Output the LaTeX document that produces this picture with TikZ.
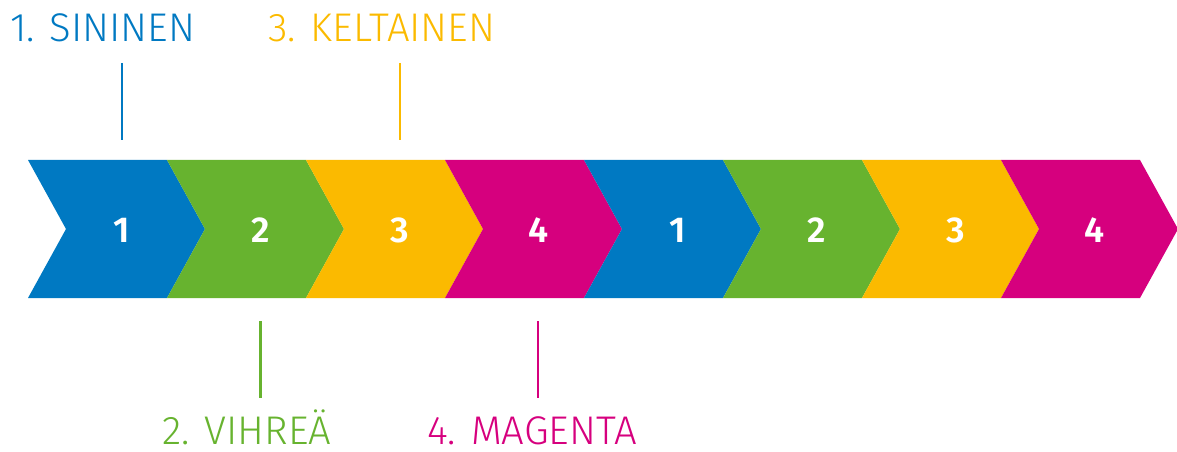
\documentclass[tikz,border=0pt]{standalone}
\usepackage{fontspec}
\setmainfont{Fira Sans}
\newfontfamily\lightfont{Fira Sans Light}
\newfontfamily\boldfont{Fira Sans}[UprightFont=* SemiBold]
\definecolor{cblue}{HTML}{0079C2}
\definecolor{cgreen}{HTML}{67B32F}
\definecolor{cyellow}{HTML}{FBBA00}
\definecolor{cmagenta}{HTML}{D6007E}
\tikzset{
  num/.style={text=white, font=\boldfont\fontsize{27}{27}\selectfont, inner sep=0pt},
  lab/.style={font=\lightfont\fontsize{30}{30}\selectfont, inner sep=0pt, anchor=base west},
  tick/.style={line width=1.6pt}
}
\begin{document}
\begin{tikzpicture}[x=0.75pt,y=-0.75pt]
\useasboundingbox (0,0) rectangle (1177,452);
\foreach \i/\c in {0/cblue,1/cgreen,2/cyellow,3/cmagenta,4/cblue,5/cgreen,6/cyellow,7/cmagenta}{
  \pgfmathsetmacro{\L}{28+139*\i}
  \fill[\c] (\L,160) -- ++(139,0) -- ++(38,69) -- ++(-38,69) -- ++(-139,0) -- ++(38,-69) -- cycle;
}
\foreach \i/\n in {0/1,1/2,2/3,3/4,4/1,5/2,6/3,7/4}{
  \pgfmathsetmacro{\X}{28+139*\i+94}
  \node[num] (n\i) at (\X,230) {\n};
}
\node[lab, text=cblue] (l1) at (10,42) {1. SININEN};
\node[lab, text=cyellow] (l3) at (268,42) {3. KELTAINEN};
\node[lab, text=cgreen] (l2) at (162,444) {2. VIHREÄ};
\node[lab, text=cmagenta] (l4) at (427,444) {4. MAGENTA};
\coordinate (a1) at (122,63); \coordinate (b1) at (122,140);
\coordinate (a3) at (400,63); \coordinate (b3) at (400,140);
\coordinate (a2) at (260.5,321); \coordinate (b2) at (260.5,398);
\coordinate (a4) at (538,321); \coordinate (b4) at (538,398);
\draw[tick, cblue] (a1) -- (b1);
\draw[tick, cyellow] (a3) -- (b3);
\draw[tick, cgreen] (a2) -- (b2);
\draw[tick, cmagenta] (a4) -- (b4);
\end{tikzpicture}
\end{document}
